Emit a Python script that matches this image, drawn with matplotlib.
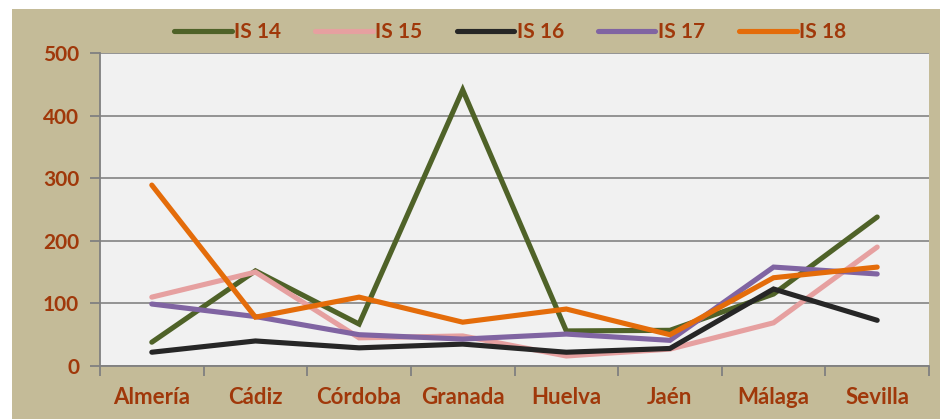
import matplotlib.pyplot as plt
from matplotlib.patches import Rectangle
import numpy as np

provincias = ['Almería', 'Cádiz', 'Córdoba', 'Granada', 'Huelva', 'Jaén', 'Málaga', 'Sevilla']
is14 = [38, 152, 67, 441, 56, 57, 115, 238]
is15 = [110, 150, 45, 48, 16, 27, 69, 190]
is16 = [22, 40, 29, 35, 22, 28, 123, 73]
is17 = [99, 79, 50, 43, 51, 41, 158, 147]
is18 = [289, 78, 110, 70, 91, 50, 141, 158]

series = ['IS 14', 'IS 15', 'IS 16', 'IS 17', 'IS 18']
colores = ['#4F6228', '#E6A0A0', '#262626', '#8064A2', '#E46C0A']
txt = '#A0380A'

plt.rcParams['font.family'] = ['Lato', 'DejaVu Sans']

fig = plt.figure(figsize=(9.4, 4.19), dpi=100)
fig.patches.append(Rectangle((12 / 940, 0), 1, 1 - 9 / 419, transform=fig.transFigure,
                             facecolor='#C4BB98', edgecolor='none', zorder=-5))
ax = fig.add_axes([100 / 940, 53 / 419, 829 / 940, 313 / 419])
ax.set_zorder(2)
ax.set_facecolor('#F1F1F1')

x = np.arange(len(provincias))
for vals, nombre, c in zip([is14, is15, is16, is17, is18], series, colores):
    ax.plot(x, vals, color=c, lw=3.7, label=nombre, solid_capstyle='round', solid_joinstyle='miter')

ax.set_xlim(-0.5, 7.5)
ax.set_ylim(0, 500)
ax.set_yticks([0, 100, 200, 300, 400, 500])
ax.yaxis.grid(True, color='#8C8C8C', lw=1.3)
ax.set_axisbelow(True)
ax.set_xticks(x)
ax.set_xticklabels(provincias)
ax.set_xticks(np.arange(-0.5, 8, 1), minor=True)
ax.tick_params(axis='x', which='major', length=0, pad=15)
ax.tick_params(axis='x', which='minor', length=7, color='#808080', width=1.3)
ax.tick_params(axis='y', length=7, color='#808080', width=1.3, pad=8)
for lab in ax.get_xticklabels():
    lab.set_color(txt)
    lab.set_fontweight('bold')
    lab.set_fontsize(16)
for lab in ax.get_yticklabels():
    lab.set_color(txt)
    lab.set_fontweight('bold')
    lab.set_fontsize(15)
for s in ['top', 'right']:
    ax.spines[s].set_visible(False)
for s in ['left', 'bottom']:
    ax.spines[s].set_color('#808080')
    ax.spines[s].set_linewidth(1.3)

leg = fig.legend(loc='center', bbox_to_anchor=(0.543, 1 - 32 / 419), ncol=5, frameon=False,
                 handlelength=2.75, handletextpad=0.12, columnspacing=1.65,
                 prop={'weight': 'bold', 'size': 15})
for t in leg.get_texts():
    t.set_color(txt)

fig.savefig('out.png', dpi=100)
